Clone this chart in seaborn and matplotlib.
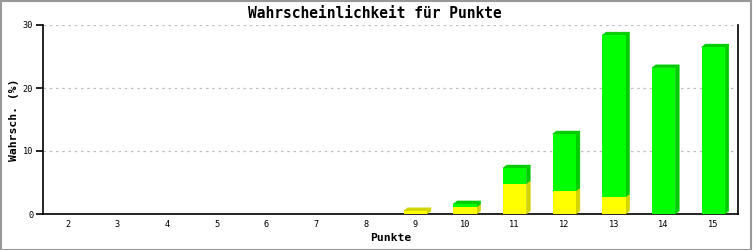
import matplotlib
matplotlib.use("Agg")
import matplotlib.pyplot as plt
import matplotlib.patches as mpatches
import seaborn as sns
import pandas as pd

punkte = ["2", "3", "4", "5", "6", "7", "8", "9", "10", "11", "12", "13", "14", "15"]
gelb = [0, 0, 0, 0, 0, 0, 0, 0.5, 1.1, 4.8, 3.65, 2.7, 0, 0]
gruen = [0, 0, 0, 0, 0, 0, 0, 0, 0.5, 2.5, 9.05, 25.7, 23.2, 26.5]

total = [g + r for g, r in zip(gelb, gruen)]
df = pd.DataFrame({"Punkte": punkte, "gelb": gelb, "gesamt": total})

sns.set_style("white")
mono = ["DejaVu Sans Mono"]
plt.rcParams["font.family"] = mono
plt.rcParams["text.color"] = "black"
plt.rcParams["axes.labelcolor"] = "black"
plt.rcParams["xtick.color"] = "black"
plt.rcParams["ytick.color"] = "black"

fig = plt.figure(figsize=(7.53, 2.5), dpi=100)
ax = fig.add_axes([43 / 753, 36 / 250, 695 / 753, 189 / 250])

BW = 0.47
sns.barplot(data=df, x="Punkte", y="gesamt", color="#00ff00", width=BW,
            saturation=1, ax=ax, zorder=3, linewidth=0)
sns.barplot(data=df, x="Punkte", y="gelb", color="#ffff00", width=BW,
            saturation=1, ax=ax, zorder=3, linewidth=0)

ax.set_xlim(-0.5, 13.5)
ax.set_ylim(0, 30)

# 3D side/top faces
dx = 4 / 49.6
dy = 3 / 6.3
npat = len(punkte)
green_bars = ax.patches[:npat]
yellow_bars = ax.patches[npat:2 * npat]
for gb, yb, y_v, tot in zip(green_bars, yellow_bars, gelb, total):
    if tot <= 0:
        continue
    x0 = gb.get_x()
    x1 = x0 + gb.get_width()
    if y_v > 0:
        ax.add_patch(mpatches.Polygon([(x1, 0), (x1 + dx, dy), (x1 + dx, y_v + dy), (x1, y_v)],
                                      closed=True, facecolor="#d4d400", edgecolor="#d4d400",
                                      linewidth=0.3, zorder=2.9))
    if tot - y_v > 0:
        ax.add_patch(mpatches.Polygon([(x1, y_v), (x1 + dx, y_v + dy), (x1 + dx, tot + dy), (x1, tot)],
                                      closed=True, facecolor="#00cc00", edgecolor="#00cc00",
                                      linewidth=0.3, zorder=2.9))
        topc = "#00cc00"
    else:
        topc = "#d4d400"
    ax.add_patch(mpatches.Polygon([(x0, tot), (x0 + dx, tot + dy), (x1 + dx, tot + dy), (x1, tot)],
                                  closed=True, facecolor=topc, edgecolor=topc,
                                  linewidth=0.3, zorder=2.9))

ax.set_yticks([0, 10, 20, 30])
for yv in [10, 20, 30]:
    ax.axhline(yv, color="#c0c0c0", linestyle=(0, (2, 3)), linewidth=0.9, zorder=1)

ax.spines["top"].set_visible(False)
for side in ["left", "bottom", "right"]:
    ax.spines[side].set_color("black")
    ax.spines[side].set_linewidth(1.2)

ax.tick_params(axis="y", length=5, width=1.2, color="black", labelsize=6.2, pad=2, left=True)
ax.tick_params(axis="x", length=0, labelsize=6.2, pad=4)
for lab in ax.get_xticklabels() + ax.get_yticklabels():
    lab.set_fontfamily(mono)

ax.set_xlabel("Punkte", fontsize=8.2, fontweight="bold", labelpad=3)
ax.set_ylabel("Wahrsch. (%)", fontsize=8.2, fontweight="bold", labelpad=3)
fig.text(375 / 753, 1 - 13 / 250, "Wahrscheinlichkeit für Punkte", ha="center", va="center",
         fontsize=10.5, fontweight="bold", family=mono, color="black")

fig.patches.append(mpatches.Rectangle((0.001, 0.002), 0.997, 0.994, transform=fig.transFigure,
                                      fill=False, edgecolor="#999999", linewidth=1.5))

fig.savefig("out.png", dpi=100)
